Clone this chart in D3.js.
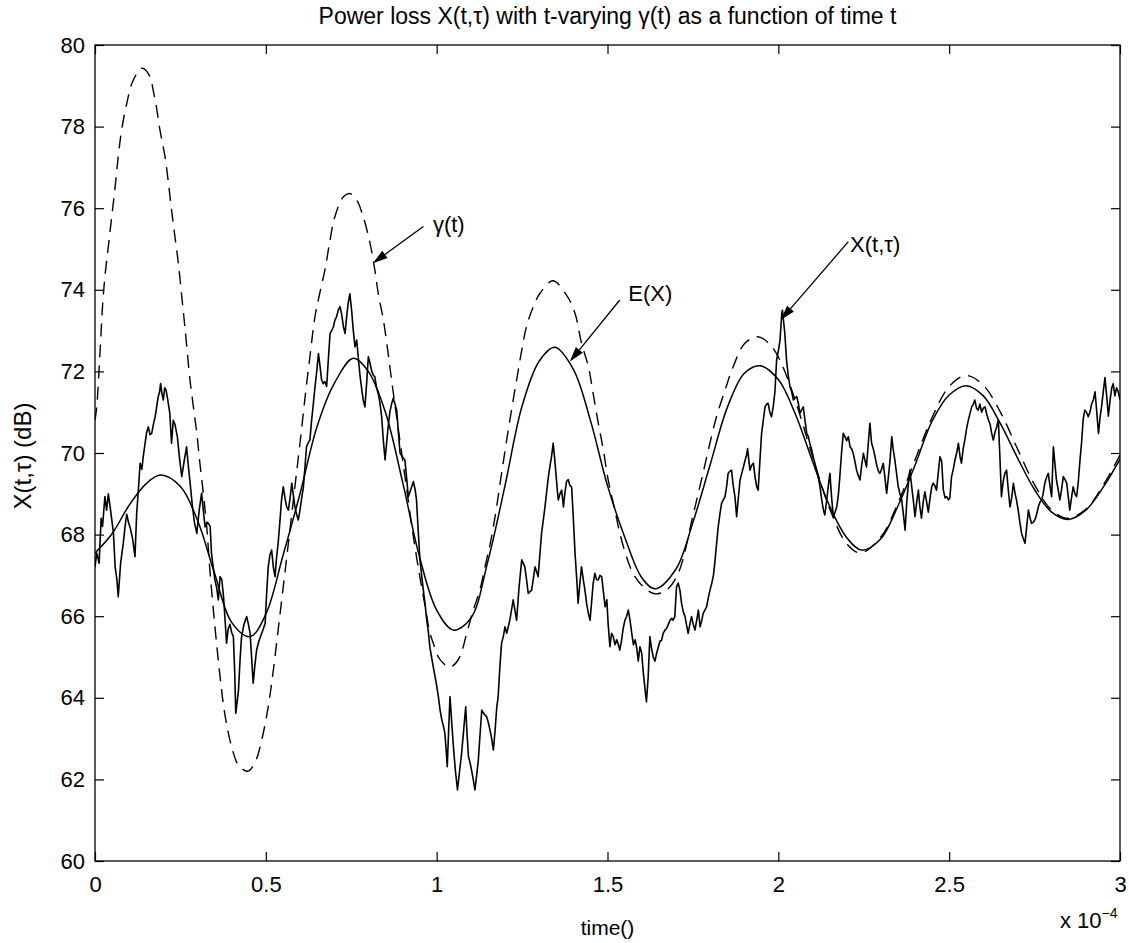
<!DOCTYPE html>
<html>
<head>
<meta charset="utf-8">
<script src="https://cdn.jsdelivr.net/npm/d3@7"></script>
<style>
  html, body { margin: 0; padding: 0; background: #fff; }
  svg text { font-family: "Liberation Sans", Arial, Helvetica, sans-serif; fill: #000; }
</style>
</head>
<body>
<svg id="chart" width="1129" height="943"></svg>
<script>
// time axis in units of 1e-4 s, power loss in dB
const timeTicks = [0, 0.5, 1, 1.5, 2, 2.5, 3];
const lossTicks = [60, 62, 64, 66, 68, 70, 72, 74, 76, 78, 80];

// gamma(t): time-varying path-loss term (dashed)
const gammaCurve = [
  [0,70.8],[0.005,71.13],[0.015,72.52],[0.022,73.59],[0.029,74.32],[0.039,75.06],[0.049,75.79],[0.059,76.53],
  [0.068,77.26],[0.078,77.92],[0.093,78.57],[0.11,79.1],[0.137,79.43],[0.156,79.3],[0.176,78.65],[0.19,77.92],
  [0.205,77.26],[0.215,76.61],[0.224,75.96],[0.234,75.3],[0.244,74.65],[0.254,73.83],[0.263,73.1],[0.278,71.79],
  [0.288,71.13],[0.298,70.48],[0.307,69.75],[0.317,69.01],[0.327,68.19],[0.337,67.05],[0.351,65.75],[0.365,64.6],
  [0.38,63.6],[0.4,62.8],[0.42,62.35],[0.447,62.2],[0.47,62.45],[0.488,62.97],[0.507,63.78],[0.522,64.68],
  [0.536,65.66],[0.551,66.72],[0.566,67.79],[0.585,69.17],[0.6,70.24],[0.615,71.38],[0.629,72.36],[0.644,73.35],
  [0.66,74.0],[0.673,74.49],[0.688,75.22],[0.702,75.79],[0.727,76.28],[0.745,76.36],[0.766,76.2],[0.785,75.79],
  [0.805,75.14],[0.819,74.49],[0.829,73.91],[0.844,73.26],[0.858,72.44],[0.868,71.79],[0.89,70.45],[0.91,69.25],
  [0.93,68.05],[0.95,67.0],[0.965,66.3],[0.98,65.6],[0.99,65.34],[1.005,65.0],[1.019,64.85],[1.035,64.75],
  [1.05,64.8],[1.068,65.01],[1.088,65.58],[1.107,66.15],[1.125,66.6],[1.146,67.38],[1.156,67.75],[1.171,68.44],
  [1.19,69.5],[1.205,70.32],[1.219,71.05],[1.234,71.79],[1.249,72.52],[1.263,73.1],[1.283,73.59],[1.302,73.91],
  [1.34,74.22],[1.38,73.87],[1.405,73.42],[1.424,72.69],[1.444,72.12],[1.458,71.46],[1.473,70.73],[1.488,70.07],
  [1.502,69.34],[1.517,68.77],[1.545,67.75],[1.575,67.05],[1.605,66.72],[1.639,66.55],[1.673,66.64],[1.707,67.05],
  [1.751,68.5],[1.775,69.34],[1.795,70.07],[1.819,70.89],[1.844,71.54],[1.868,72.12],[1.902,72.69],[1.94,72.85],
  [1.975,72.67],[1.995,72.43],[2.014,72.1],[2.05,71.28],[2.1,69.92],[2.15,68.64],[2.2,67.78],[2.24,67.55],
  [2.3,67.94],[2.35,68.77],[2.4,69.83],[2.45,70.87],[2.5,71.63],[2.55,71.9],[2.6,71.66],[2.65,71.0],
  [2.7,70.1],[2.75,69.22],[2.8,68.6],[2.845,68.4],[2.9,68.62],[2.95,69.2],[3.0,69.95]
];

// E(X): expected power loss (smooth solid)
const meanCurve = [
  [0,67.55],[0.05,68.02],[0.1,68.72],[0.15,69.25],[0.192,69.46],[0.25,69.18],[0.3,68.35],[0.35,67.05],
  [0.4,65.85],[0.454,65.5],[0.5,66.05],[0.55,67.48],[0.6,69.0],[0.65,70.65],[0.7,71.7],[0.756,72.32],
  [0.8,72.0],[0.85,71.0],[0.9,69.3],[0.95,67.45],[1.0,66.15],[1.049,65.66],[1.1,65.95],[1.15,67.35],
  [1.2,69.2],[1.25,71.15],[1.3,72.25],[1.346,72.59],[1.4,72.05],[1.45,70.8],[1.5,69.2],[1.55,67.95],
  [1.6,66.95],[1.639,66.67],[1.7,67.15],[1.75,68.3],[1.8,69.7],[1.85,71.1],[1.9,71.95],[1.946,72.14],
  [2.0,71.8],[2.05,70.95],[2.1,69.8],[2.15,68.7],[2.2,67.93],[2.244,67.62],[2.3,67.9],[2.35,68.7],
  [2.4,69.7],[2.45,70.78],[2.5,71.42],[2.55,71.65],[2.6,71.4],[2.65,70.72],[2.7,69.88],[2.75,69.1],
  [2.8,68.55],[2.848,68.37],[2.9,68.6],[2.95,69.15],[3.0,69.85]
];

// X(t,tau): one realisation of the power loss (noisy solid)
const lossSamples = [
  [0,67.2],[0.005,67.55],[0.012,67.3],[0.018,68.4],[0.022,68.2],[0.029,68.93],[0.034,68.6],[0.039,69.0],
  [0.044,68.7],[0.054,68.04],[0.059,67.2],[0.064,66.9],[0.068,66.48],[0.075,67.3],[0.083,67.8],[0.088,68.2],
  [0.093,68.5],[0.098,68.3],[0.102,68.2],[0.11,67.9],[0.117,67.46],[0.122,68.52],[0.127,69.1],[0.132,69.75],
  [0.137,69.6],[0.141,69.9],[0.146,70.2],[0.151,70.5],[0.156,70.64],[0.161,70.45],[0.166,70.48],[0.171,70.7],
  [0.176,70.89],[0.18,71.1],[0.185,71.38],[0.189,71.5],[0.192,71.7],[0.196,71.45],[0.2,71.3],[0.204,71.6],
  [0.208,71.54],[0.213,71.3],[0.219,70.97],[0.224,70.24],[0.229,70.8],[0.234,70.7],[0.241,70.4],[0.247,69.9],
  [0.254,69.42],[0.261,69.8],[0.268,70.15],[0.273,69.7],[0.278,69.3],[0.285,68.7],[0.291,68.3],[0.298,68.03],
  [0.305,68.6],[0.312,69.01],[0.317,68.6],[0.322,68.19],[0.33,68.3],[0.337,68.2],[0.341,67.54],[0.346,67.2],
  [0.351,66.89],[0.356,66.7],[0.361,66.4],[0.366,66.97],[0.371,66.9],[0.376,66.5],[0.38,66.0],[0.385,65.34],
  [0.39,65.7],[0.395,65.8],[0.4,65.6],[0.405,65.5],[0.409,64.6],[0.412,63.62],[0.416,63.9],[0.42,64.19],
  [0.425,65.0],[0.429,65.5],[0.436,65.8],[0.444,65.99],[0.449,65.8],[0.454,65.58],[0.459,64.9],[0.463,64.36],
  [0.468,64.8],[0.473,65.17],[0.48,65.4],[0.488,65.58],[0.493,65.7],[0.498,65.83],[0.502,66.5],[0.507,67.21],
  [0.512,67.5],[0.517,67.62],[0.522,67.2],[0.527,66.97],[0.531,67.4],[0.536,67.79],[0.541,68.3],[0.546,68.85],
  [0.551,69.17],[0.556,68.9],[0.561,68.68],[0.566,68.6],[0.571,68.9],[0.576,69.26],[0.58,69.0],[0.585,68.68],
  [0.59,68.5],[0.595,68.36],[0.6,68.6],[0.605,68.9],[0.61,69.17],[0.615,69.7],[0.619,70.15],[0.624,70.25],
  [0.629,70.32],[0.634,70.8],[0.639,71.2],[0.644,71.63],[0.649,72.0],[0.654,72.44],[0.659,72.1],[0.663,71.8],
  [0.668,71.7],[0.673,71.75],[0.678,71.63],[0.683,72.3],[0.688,72.93],[0.693,73.0],[0.698,73.1],[0.702,73.25],
  [0.707,73.34],[0.712,73.5],[0.717,73.59],[0.722,73.4],[0.727,73.1],[0.732,72.93],[0.736,73.3],[0.741,73.67],
  [0.746,73.9],[0.751,73.5],[0.756,73.0],[0.761,72.6],[0.766,72.77],[0.771,72.3],[0.776,71.87],[0.781,71.54],
  [0.785,71.3],[0.79,71.13],[0.795,71.7],[0.8,72.36],[0.805,72.2],[0.81,72.0],[0.815,71.9],[0.819,71.87],
  [0.824,71.6],[0.829,71.46],[0.834,71.22],[0.839,70.89],[0.844,70.3],[0.849,69.83],[0.853,70.2],[0.858,70.64],
  [0.863,71.0],[0.868,71.2],[0.873,71.34],[0.878,71.2],[0.883,71.05],[0.888,70.5],[0.893,69.99],[0.9,69.9],
  [0.907,69.83],[0.912,69.4],[0.917,68.93],[0.924,69.1],[0.932,69.3],[0.937,69.1],[0.941,68.85],[0.946,68.1],
  [0.951,67.38],[0.956,67.0],[0.961,66.64],[0.966,66.3],[0.971,65.9],[0.976,65.6],[0.98,65.25],[0.985,65.0],
  [0.99,64.76],[0.998,64.4],[1.005,64.03],[1.01,63.7],[1.015,63.46],[1.02,63.3],[1.024,63.13],[1.028,62.7],
  [1.031,62.31],[1.035,63.2],[1.039,64.03],[1.044,63.4],[1.049,62.8],[1.055,62.2],[1.061,61.74],[1.067,62.2],
  [1.073,62.64],[1.079,63.2],[1.085,63.78],[1.089,63.1],[1.093,62.56],[1.098,62.4],[1.102,62.23],[1.107,62.0],
  [1.112,61.74],[1.117,62.1],[1.122,62.48],[1.127,63.1],[1.132,63.7],[1.139,63.6],[1.146,63.54],[1.151,63.4],
  [1.156,63.21],[1.161,63.0],[1.166,62.72],[1.171,63.2],[1.176,63.78],[1.18,64.03],[1.185,64.76],[1.19,65.34],
  [1.195,65.5],[1.2,65.74],[1.205,65.58],[1.214,65.9],[1.224,66.4],[1.234,65.9],[1.241,66.7],[1.249,67.38],
  [1.258,67.21],[1.263,66.9],[1.268,66.56],[1.278,66.64],[1.288,67.21],[1.297,66.97],[1.302,67.5],[1.307,68.03],
  [1.312,68.35],[1.317,68.68],[1.322,69.05],[1.327,69.42],[1.332,69.7],[1.336,69.9],[1.341,70.24],[1.345,69.9],
  [1.349,69.5],[1.353,69.1],[1.356,68.85],[1.361,69.0],[1.366,69.09],[1.371,68.68],[1.375,69.0],[1.38,69.3],
  [1.385,69.35],[1.39,69.2],[1.395,69.17],[1.4,68.4],[1.405,67.54],[1.41,66.9],[1.414,66.32],[1.419,66.8],
  [1.424,67.21],[1.429,66.9],[1.434,66.64],[1.439,66.3],[1.444,66.07],[1.449,65.9],[1.454,66.4],[1.458,66.8],
  [1.463,67.05],[1.468,66.9],[1.473,66.89],[1.478,67.0],[1.483,66.97],[1.488,66.6],[1.493,66.23],[1.498,66.4],
  [1.502,65.8],[1.507,65.25],[1.512,65.58],[1.517,65.5],[1.522,65.3],[1.527,65.42],[1.532,65.3],[1.536,65.17],
  [1.541,65.4],[1.546,65.7],[1.551,65.9],[1.556,66.0],[1.561,66.15],[1.566,65.9],[1.571,65.58],[1.576,65.3],
  [1.581,65.42],[1.586,65.2],[1.59,64.9],[1.595,65.25],[1.6,65.1],[1.605,64.6],[1.61,64.2],[1.614,63.9],
  [1.619,64.5],[1.624,65.5],[1.629,65.2],[1.634,65.0],[1.639,64.9],[1.644,65.1],[1.649,65.25],[1.654,65.4],
  [1.658,65.4],[1.663,65.58],[1.668,65.66],[1.673,65.7],[1.678,65.8],[1.683,65.9],[1.688,65.95],[1.692,65.9],
  [1.697,65.99],[1.702,66.72],[1.707,66.81],[1.712,66.64],[1.717,66.3],[1.722,66.1],[1.727,65.99],[1.731,65.8],
  [1.736,65.58],[1.741,65.8],[1.746,65.99],[1.751,65.8],[1.756,65.66],[1.761,65.9],[1.766,66.15],[1.771,65.74],
  [1.776,65.9],[1.78,66.07],[1.785,66.15],[1.79,66.23],[1.795,66.45],[1.8,66.64],[1.805,66.8],[1.81,67.0],
  [1.814,67.3],[1.819,67.75],[1.824,68.19],[1.829,68.5],[1.834,68.77],[1.839,68.85],[1.844,68.93],[1.849,69.2],
  [1.853,69.5],[1.858,69.55],[1.863,69.58],[1.868,69.2],[1.873,68.93],[1.878,68.44],[1.883,68.9],[1.888,69.34],
  [1.893,69.5],[1.898,69.66],[1.902,69.8],[1.907,69.95],[1.91,70.11],[1.914,69.8],[1.917,69.58],[1.922,69.7],
  [1.927,69.75],[1.932,69.4],[1.937,69.17],[1.941,69.09],[1.946,69.8],[1.951,70.48],[1.956,70.8],[1.961,71.13],
  [1.966,71.2],[1.97,71.22],[1.975,71.0],[1.98,70.89],[1.985,71.13],[1.99,71.5],[1.995,72.28],[2.0,72.5],
  [2.005,72.77],[2.01,73.42],[2.012,73.5],[2.015,73.26],[2.019,72.93],[2.024,72.28],[2.029,71.9],[2.034,71.63],
  [2.039,71.5],[2.044,71.3],[2.049,71.35],[2.054,71.38],[2.059,71.2],[2.063,70.97],[2.068,71.05],[2.073,71.13],
  [2.078,70.8],[2.083,70.48],[2.088,70.4],[2.092,70.24],[2.097,70.1],[2.102,69.91],[2.107,69.75],[2.112,69.58],
  [2.117,69.4],[2.122,69.17],[2.127,68.85],[2.132,68.6],[2.136,68.48],[2.141,68.8],[2.146,69.17],[2.151,69.5],
  [2.156,68.9],[2.161,68.44],[2.166,68.55],[2.171,68.68],[2.176,69.0],[2.18,69.42],[2.185,70.0],[2.19,70.48],
  [2.195,70.4],[2.2,70.3],[2.205,70.4],[2.21,70.15],[2.215,70.1],[2.219,69.99],[2.224,69.8],[2.229,69.58],
  [2.234,69.45],[2.239,69.34],[2.244,69.7],[2.249,69.99],[2.254,69.8],[2.258,69.66],[2.263,70.2],[2.268,70.73],
  [2.273,70.24],[2.278,70.1],[2.283,69.91],[2.288,69.7],[2.293,69.55],[2.297,69.5],[2.302,69.6],[2.307,69.75],
  [2.312,69.4],[2.317,69.01],[2.322,69.4],[2.327,69.83],[2.332,70.4],[2.336,70.1],[2.341,69.83],[2.346,69.5],
  [2.351,69.17],[2.356,69.0],[2.361,68.85],[2.366,68.5],[2.371,68.11],[2.376,68.8],[2.381,69.3],[2.385,69.58],
  [2.39,69.2],[2.395,68.85],[2.4,68.44],[2.405,68.8],[2.41,69.09],[2.414,68.7],[2.419,68.4],[2.424,68.8],
  [2.429,69.05],[2.434,68.8],[2.439,68.55],[2.444,68.9],[2.449,69.17],[2.453,69.26],[2.458,69.2],[2.463,69.09],
  [2.468,69.5],[2.473,69.91],[2.478,69.8],[2.483,69.09],[2.488,68.9],[2.493,68.93],[2.498,68.85],[2.502,68.9],
  [2.507,69.42],[2.512,69.6],[2.517,69.83],[2.522,70.0],[2.527,70.24],[2.532,69.9],[2.536,69.75],[2.541,70.1],
  [2.546,70.32],[2.551,70.6],[2.556,70.8],[2.561,70.97],[2.566,71.13],[2.571,71.2],[2.575,71.3],[2.58,71.1],
  [2.585,71.05],[2.59,71.2],[2.595,71.0],[2.6,71.1],[2.605,71.13],[2.61,70.95],[2.615,70.81],[2.62,70.7],
  [2.624,70.5],[2.629,70.32],[2.634,70.5],[2.639,70.64],[2.644,70.81],[2.649,69.8],[2.653,68.93],[2.658,69.3],
  [2.663,69.5],[2.668,69.58],[2.673,69.1],[2.678,68.68],[2.683,68.9],[2.688,69.26],[2.693,69.0],[2.697,68.85],
  [2.702,68.6],[2.707,68.3],[2.712,68.03],[2.717,67.9],[2.722,67.79],[2.727,68.2],[2.732,68.6],[2.737,68.4],
  [2.741,68.28],[2.746,68.3],[2.751,68.36],[2.756,68.5],[2.761,68.68],[2.766,68.8],[2.771,68.85],[2.775,69.0],
  [2.78,69.26],[2.785,69.4],[2.79,69.5],[2.795,69.2],[2.8,68.93],[2.805,70.15],[2.81,69.7],[2.814,69.34],
  [2.819,69.1],[2.824,68.85],[2.829,69.1],[2.834,69.42],[2.839,69.35],[2.844,69.26],[2.849,68.9],[2.853,68.6],
  [2.858,68.9],[2.863,69.17],[2.868,69.0],[2.873,68.93],[2.878,69.3],[2.883,69.83],[2.888,70.3],[2.892,70.81],
  [2.897,71.05],[2.902,71.0],[2.907,70.89],[2.912,71.0],[2.917,71.2],[2.922,71.3],[2.927,71.5],[2.932,71.0],
  [2.937,70.48],[2.942,70.9],[2.946,71.13],[2.951,71.5],[2.956,71.85],[2.961,71.4],[2.966,70.9],[2.971,71.3],
  [2.976,71.6],[2.98,71.7],[2.985,71.4],[2.99,71.6],[2.995,71.5],[3.0,71.3]
];

// call-out labels with arrows: tip and tail in data units
const callouts = [
  { label: "γ(t)",   tip: [0.813, 74.65], tail: [0.961, 75.55], at: [0.989, 75.42] },
  { label: "E(X)",   tip: [1.39, 72.24],  tail: [1.536, 73.75], at: [1.561, 73.73] },
  { label: "X(t,τ)", tip: [2.007, 73.26], tail: [2.205, 75.18], at: [2.21, 74.93] }
];

const svg = d3.select("#chart");
const box = { left: 95, top: 45, right: 1120, bottom: 861 };

const x = d3.scaleLinear().domain([0, 3]).range([box.left, box.right]);
const y = d3.scaleLinear().domain([60, 80]).range([box.bottom, box.top]);

svg.append("rect").attr("width", 1129).attr("height", 943).attr("fill", "#fff");

svg.append("defs").append("clipPath").attr("id", "plotClip")
  .append("rect")
  .attr("x", box.left).attr("y", box.top)
  .attr("width", box.right - box.left).attr("height", box.bottom - box.top);

const fmt = d3.format("~g");
const tickLen = 9;

function styleAxis(g) {
  g.attr("font-size", 22).attr("font-family", null);
  g.select(".domain").remove();
  g.selectAll(".tick line").attr("stroke", "#000").attr("stroke-width", 1.2);
  g.selectAll(".tick text").attr("fill", "#000");
}

svg.append("g").attr("transform", `translate(0,${box.bottom})`)
  .call(d3.axisBottom(x).tickValues(timeTicks).tickFormat(fmt)
    .tickSizeInner(-tickLen).tickSizeOuter(0).tickPadding(15))
  .call(styleAxis);

svg.append("g").attr("transform", `translate(0,${box.top})`)
  .call(d3.axisTop(x).tickValues(timeTicks).tickFormat("")
    .tickSizeInner(-tickLen).tickSizeOuter(0))
  .call(styleAxis);

svg.append("g").attr("transform", `translate(${box.left},0)`)
  .call(d3.axisLeft(y).tickValues(lossTicks).tickFormat(fmt)
    .tickSizeInner(-tickLen).tickSizeOuter(0).tickPadding(10))
  .call(styleAxis);

svg.append("g").attr("transform", `translate(${box.right},0)`)
  .call(d3.axisRight(y).tickValues(lossTicks).tickFormat("")
    .tickSizeInner(-tickLen).tickSizeOuter(0))
  .call(styleAxis);

svg.append("rect")
  .attr("x", box.left).attr("y", box.top)
  .attr("width", box.right - box.left).attr("height", box.bottom - box.top)
  .attr("fill", "none").attr("stroke", "#000").attr("stroke-width", 1.3);

const plot = svg.append("g").attr("clip-path", "url(#plotClip)");

const smooth = d3.line().x(d => x(d[0])).y(d => y(d[1])).curve(d3.curveCatmullRom.alpha(0.5));
const jagged = d3.line().x(d => x(d[0])).y(d => y(d[1]));

plot.append("path").datum(gammaCurve)
  .attr("d", smooth).attr("fill", "none")
  .attr("stroke", "#000").attr("stroke-width", 1.4).attr("stroke-dasharray", "13,8");

plot.append("path").datum(meanCurve)
  .attr("d", smooth).attr("fill", "none")
  .attr("stroke", "#000").attr("stroke-width", 1.5);

plot.append("path").datum(lossSamples)
  .attr("d", jagged).attr("fill", "none")
  .attr("stroke", "#000").attr("stroke-width", 1.6).attr("stroke-linejoin", "round");

// call-outs
const notes = svg.append("g");
callouts.forEach(c => {
  const tx = x(c.tip[0]), ty = y(c.tip[1]);
  const sx = x(c.tail[0]), sy = y(c.tail[1]);
  const ang = Math.atan2(ty - sy, tx - sx);
  const headLen = 15, headHalf = 4.5;
  const bx = tx - headLen * Math.cos(ang), by = ty - headLen * Math.sin(ang);
  notes.append("line")
    .attr("x1", sx).attr("y1", sy).attr("x2", bx).attr("y2", by)
    .attr("stroke", "#000").attr("stroke-width", 1.3);
  const px = -Math.sin(ang), py = Math.cos(ang);
  notes.append("path")
    .attr("d", `M${tx},${ty}L${bx + px * headHalf},${by + py * headHalf}L${bx - px * headHalf},${by - py * headHalf}Z`)
    .attr("fill", "#000");
  notes.append("text")
    .attr("x", x(c.at[0])).attr("y", y(c.at[1]))
    .attr("font-size", 22).text(c.label);
});

// title and axis labels
svg.append("text")
  .attr("x", (box.left + box.right) / 2).attr("y", 24)
  .attr("text-anchor", "middle").attr("font-size", 23)
  .text("Power loss X(t,τ) with t-varying γ(t) as a function of time t");

svg.append("text")
  .attr("x", (box.left + box.right) / 2).attr("y", 935)
  .attr("text-anchor", "middle").attr("font-size", 21)
  .text("time()");

svg.append("text")
  .attr("transform", "translate(31,456) rotate(-90)")
  .attr("text-anchor", "middle").attr("font-size", 24)
  .text("X(t,τ) (dB)");

const expo = svg.append("text")
  .attr("x", 1060).attr("y", 928).attr("font-size", 22);
expo.append("tspan").text("x 10");
expo.append("tspan").attr("dy", -10).attr("font-size", 14).text("−4");
</script>
</body>
</html>
